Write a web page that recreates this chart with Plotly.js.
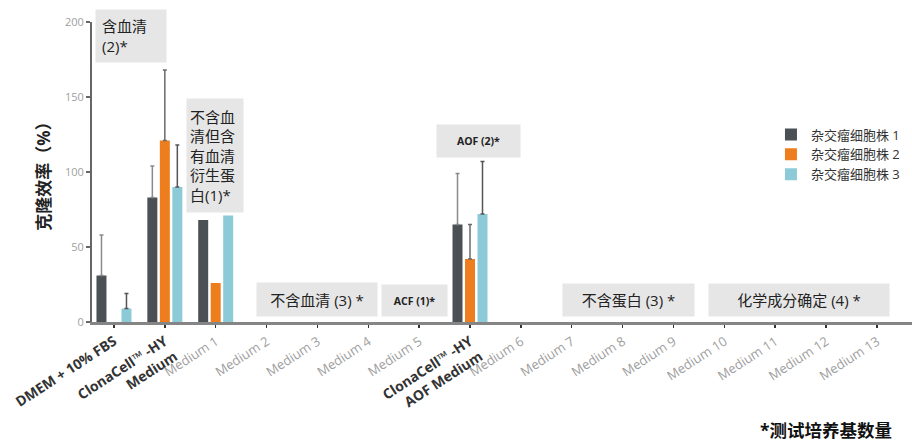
<!DOCTYPE html>
<html>
<head>
<meta charset="utf-8">
<script src="https://cdn.plot.ly/plotly-3.0.1.min.js"></script>
<style>html,body{margin:0;padding:0;background:#fff;}#chart{width:912px;height:441px;}</style>
</head>
<body>
<div id="chart"></div>
<script>
const categories = [
  "DMEM + 10% FBS", "ClonaCell™ -HY Medium", "Medium 1", "Medium 2", "Medium 3", "Medium 4", "Medium 5",
  "ClonaCell™ -HY AOF Medium", "Medium 6", "Medium 7", "Medium 8", "Medium 9", "Medium 10", "Medium 11", "Medium 12", "Medium 13"
];
const tickLabels = [
  "<b>DMEM + 10% FBS</b>", "<b>ClonaCell™ -HY<br>Medium</b>",
  "<span style='color:#a0a0a0;font-size:13px'>Medium 1</span>", "<span style='color:#a0a0a0;font-size:13px'>Medium 2</span>",
  "<span style='color:#a0a0a0;font-size:13px'>Medium 3</span>", "<span style='color:#a0a0a0;font-size:13px'>Medium 4</span>",
  "<span style='color:#a0a0a0;font-size:13px'>Medium 5</span>", "<b>ClonaCell™ -HY<br>AOF Medium</b>",
  "<span style='color:#a0a0a0;font-size:13px'>Medium 6</span>", "<span style='color:#a0a0a0;font-size:13px'>Medium 7</span>",
  "<span style='color:#a0a0a0;font-size:13px'>Medium 8</span>", "<span style='color:#a0a0a0;font-size:13px'>Medium 9</span>",
  "<span style='color:#a0a0a0;font-size:13px'>Medium 10</span>", "<span style='color:#a0a0a0;font-size:13px'>Medium 11</span>",
  "<span style='color:#a0a0a0;font-size:13px'>Medium 12</span>", "<span style='color:#a0a0a0;font-size:13px'>Medium 13</span>"
];
const seriesNames = ["杂交瘤细胞株 1", "杂交瘤细胞株 2", "杂交瘤细胞株 3"];
const line1 = [31, 83, 68, 0, 0, 0, 0, 65, 0, 0, 0, 0, 0, 0, 0, 0];
const line2 = [0, 121, 26, 0, 0, 0, 0, 42, 0, 0, 0, 0, 0, 0, 0, 0];
const line3 = [9, 90, 71, 0, 0, 0, 0, 72, 0, 0, 0, 0, 0, 0, 0, 0];
const err1 = [27, 21, NaN, NaN, NaN, NaN, NaN, 34, NaN, NaN, NaN, NaN, NaN, NaN, NaN, NaN];
const err2 = [NaN, 47, NaN, NaN, NaN, NaN, NaN, 23, NaN, NaN, NaN, NaN, NaN, NaN, NaN, NaN];
const err3 = [10, 28, NaN, NaN, NaN, NaN, NaN, 35, NaN, NaN, NaN, NaN, NaN, NaN, NaN, NaN];

const colors = ["#4b5054", "#ee7d1e", "#8ccad8"];
const errColors = ["#8a8a8a", "#6a6a6a", "#555555"];
const xs = categories.map((c, i) => i);
const vals = [line1, line2, line3];
const errs = [err1, err2, err3];

const traces = vals.map((v, k) => ({
  type: "bar",
  name: seriesNames[k],
  x: xs,
  y: v,
  marker: {color: colors[k]},
  error_y: {type: "data", symmetric: false, array: errs[k],
            arrayminus: errs[k].map(e => (isNaN(e) ? NaN : 0)),
            color: errColors[k], thickness: 1.5, width: 2}
}));

const font = "'Open Sans', 'Noto Sans CJK SC', sans-serif";
const box = (text, x, y, w, h, size, bold, align, pad) => ({
  xref: "x", yref: "y", x: x, y: y, text: bold ? "<b>" + text + "</b>" : text,
  showarrow: false, width: w, height: h, bgcolor: "#e6e6e6", borderpad: pad || 0,
  align: align || "center", valign: "middle",
  font: {family: font, size: size, color: "#222"}
});

const layout = {
  width: 912, height: 441,
  margin: {l: 92, r: 0, t: 22, b: 119},
  paper_bgcolor: "#fff", plot_bgcolor: "#fff",
  font: {family: font},
  barmode: "group", bargap: 0.263, bargroupgap: 0.2,
  showlegend: true,
  legend: {x: 0.828, y: 0.675, xanchor: "left", yanchor: "top", bgcolor: "rgba(0,0,0,0)",
           font: {family: font, size: 13, color: "#333"}, tracegroupgap: 0},
  xaxis: {
    range: [-0.432, 15.69], tickmode: "array", tickvals: xs, ticktext: tickLabels,
    tickangle: -33, tickfont: {family: font, size: 14, color: "#333"},
    showline: true, linecolor: "#858585", linewidth: 3,
    ticks: "outside", ticklen: 3, tickwidth: 1.5, tickcolor: "#333",
    showgrid: false, zeroline: false, fixedrange: true
  },
  yaxis: {
    range: [0, 200], tickvals: [0, 50, 100, 150, 200],
    tickfont: {family: font, size: 11, color: "#a0a0a0"},
    showline: true, linecolor: "#666", linewidth: 2,
    ticks: "outside", ticklen: 4, tickwidth: 1.5, tickcolor: "#666",
    showgrid: false, zeroline: false,
    title: {text: "<b>克隆效率（%）</b>", font: {family: font, size: 17, color: "#222"}, standoff: 10}
  },
  annotations: [
    box("含血清<br>(2)*", 0.334, 190.7, 58, 40, 15, false, "left", 6),
    box("不含血<br>清但含<br>有血清<br>衍生蛋<br>白(1)*", 1.985, 111, 50, 107, 15, false, "left", 3),
    box("不含血清 (3) *", 3.99, 15, 120, 33, 15, false),
    box("ACF (1)*", 5.907, 14.3, 65, 31, 10.5, true),
    box("AOF (2)*", 7.165, 120.7, 83, 32, 10.5, true),
    box("不含蛋白 (3) *", 10.11, 14.7, 131, 32, 15, false),
    box("化学成分确定 (4) *", 13.47, 14.7, 180, 32, 15, false),
    {xref: "paper", yref: "paper", x: 0.895, y: -0.36, xanchor: "center", yanchor: "middle",
     text: "<b>*测试培养基数量</b>",
     showarrow: false, font: {family: font, size: 17.5, color: "#111"}}
  ]
};

Plotly.newPlot("chart", traces, layout, {displayModeBar: false, staticPlot: true});
</script>
</body>
</html>
